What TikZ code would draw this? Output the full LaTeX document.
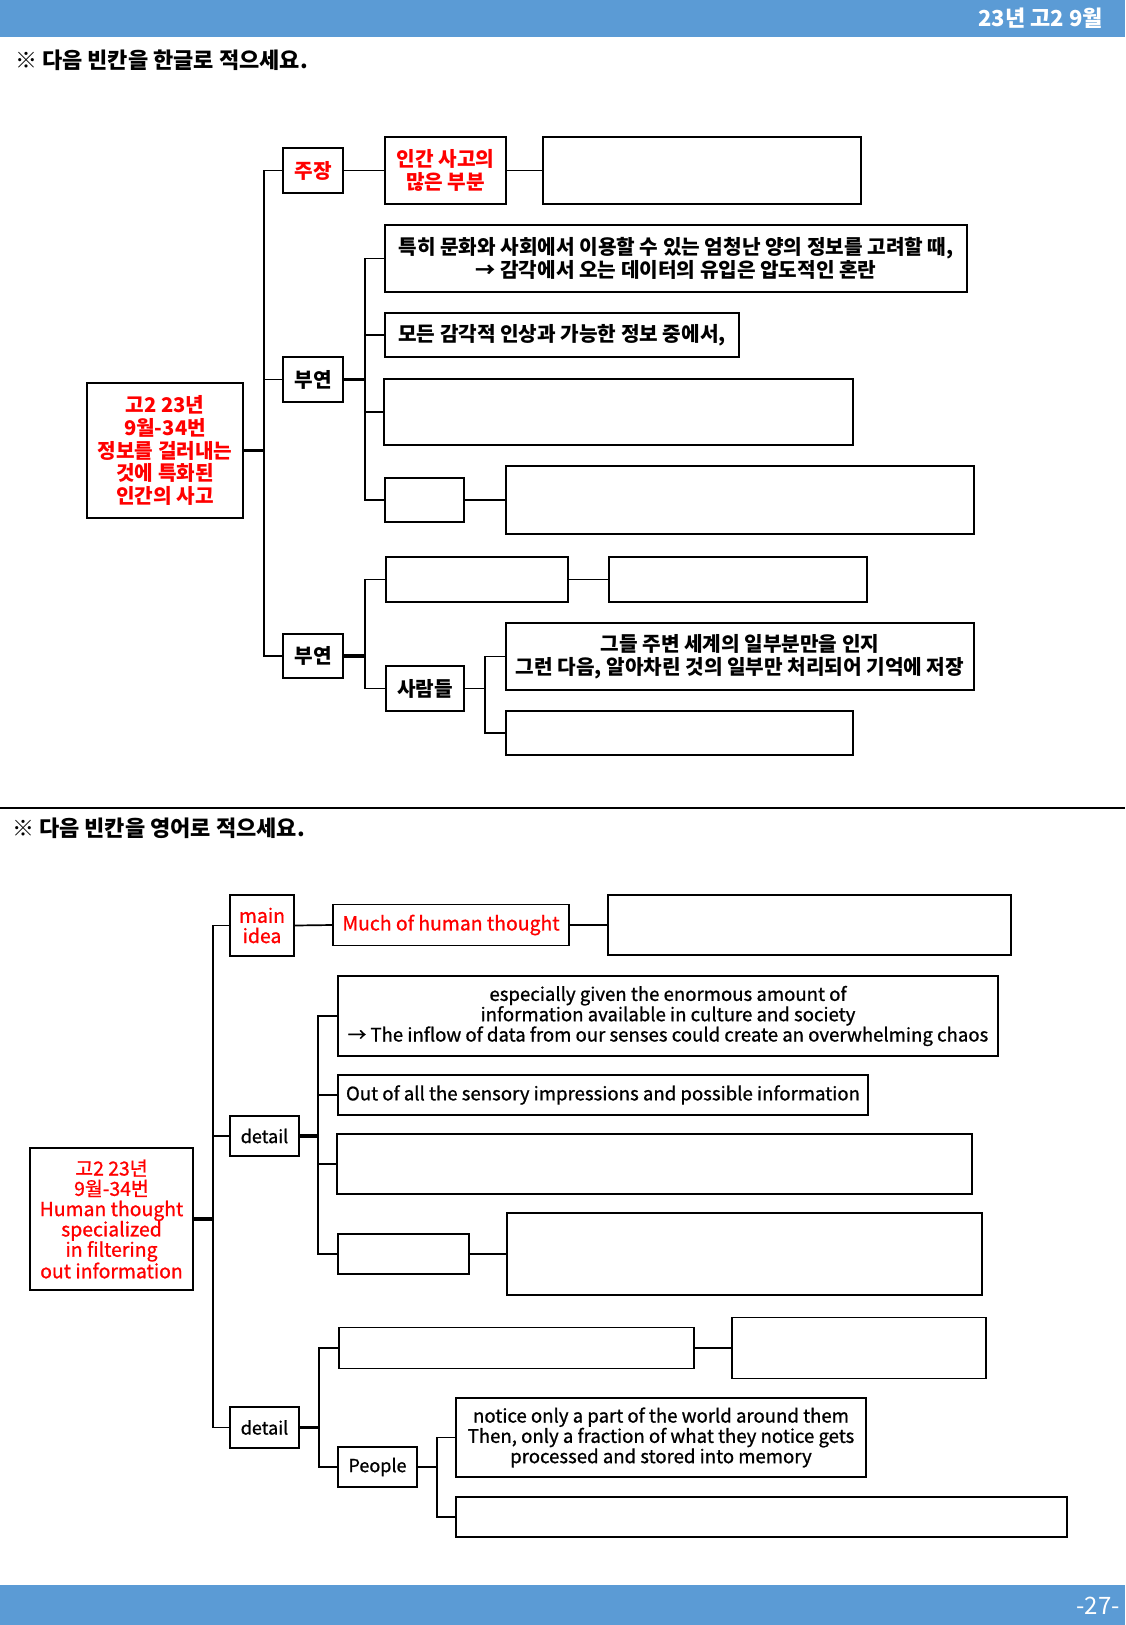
\documentclass[tikz,border=0pt]{standalone}
\usepackage{fontspec}
\setmainfont{Noto Sans CJK KR}
\newfontfamily\emed[FakeBold=0.9]{Noto Sans CJK KR}
\definecolor{hdr}{HTML}{5B9BD5}
\definecolor{kred}{HTML}{FF0000}
\begin{document}
\begin{tikzpicture}[x=1pt,y=-1pt,
  box/.style={draw=black, line width=1.9pt, inner sep=0pt, align=center, font=\fontsize{20.2}{22.6}\selectfont\bfseries},
  ebox/.style={draw=black, line width=1.9pt, inner sep=0pt, align=center, font=\fontsize{18.6}{20.3}\selectfont\emed},
  lbl/.style={font=\fontsize{18}{20.3}\selectfont\emed},
  rlbl/.style={font=\fontsize{19.4}{20.3}\selectfont\emed},
  redtxt/.style={text=kred},
  conn/.style={line width=1.7pt},
  tconn/.style={line width=3.6pt},
  ttl/.style={anchor=west, inner sep=0pt, font=\fontsize{22}{26}\selectfont\bfseries}]
\useasboundingbox (0,0) rectangle (1125,1625);
\fill[white] (0,0) rectangle (1125,1625);
% header / footer
\fill[hdr] (0,0) rectangle (1125,37);
\fill[hdr] (0,1585) rectangle (1125,1625);
\node[anchor=east, inner sep=0pt, text=white, font=\fontsize{22}{26}\selectfont\bfseries] (hd) at (1103,18) {23년 고2 9월};
\node[anchor=east, inner sep=0pt, text=white, font=\fontsize{24}{28}\selectfont] (pg) at (1120,1606) {-27-};
% titles
\node[ttl] (t1) at (15,60) {※ 다음 빈칸을 한글로 적으세요.};
\node[ttl] (t2) at (12,828) {※ 다음 빈칸을 영어로 적으세요.};
\coordinate (sepL) at (0,808);
\coordinate (sepR) at (1125,808);
\draw[line width=2.2pt] (sepL) -- (sepR);

% ===== upper diagram =====
\node[box, redtxt, minimum width=156, minimum height=135] (root1) at (165,450.5) {고2 23년\\9월-34번\\정보를 걸러내는\\것에 특화된\\인간의 사고};
\node[box, redtxt, minimum width=60, minimum height=45] (zj) at (313,170.5) {주장};
\node[box, redtxt, minimum width=121, minimum height=67] (ig) at (445.5,170.5) {인간 사고의\\많은 부분};
\node[box, minimum width=318, minimum height=67] (b1) at (702,170.5) {};
\node[box, minimum width=60, minimum height=45] (by1) at (313,379.5) {부연};
\node[box, minimum width=582, minimum height=67] (tk) at (676,258.5) {특히 문화와 사회에서 이용할 수 있는 엄청난 양의 정보를 고려할 때,\\→ 감각에서 오는 데이터의 유입은 압도적인 혼란};
\node[box, minimum width=354, minimum height=44] (md) at (562,335) {모든 감각적 인상과 가능한 정보 중에서,};
\node[box, minimum width=469, minimum height=66] (b3) at (618.5,412) {};
\node[box, minimum width=79, minimum height=44] (s1) at (424.5,500) {};
\node[box, minimum width=468, minimum height=68] (b4) at (740,500) {};
\node[box, minimum width=60, minimum height=44] (by2) at (313,656) {부연};
\node[box, minimum width=182, minimum height=45] (b5) at (477,579.5) {};
\node[box, minimum width=258, minimum height=45] (b6) at (738,579.5) {};
\node[box, minimum width=78, minimum height=45] (sr) at (425,688.5) {사람들};
\node[box, minimum width=468, minimum height=67] (gd) at (740,656.5) {그들 주변 세계의 일부분만을 인지\\그런 다음, 알아차린 것의 일부만 처리되어 기억에 저장};
\node[box, minimum width=347, minimum height=44] (b7) at (679.5,733) {};

\coordinate (T1) at (264,450.5);
\draw[tconn] (root1.east) -- (T1);
\draw[conn] (zj.west) -| (T1) |- (by2.west);
\draw[conn] (by1.west) -- (by1.west -| T1);
\draw[conn] (zj.east) -- (ig.west);
\draw[conn] (ig.east) -- (b1.west);
\coordinate (T2) at (365,379.5);
\draw[tconn] (by1.east) -- (T2);
\draw[conn] (tk.west) -| (T2) |- (s1.west);
\draw[conn] (md.west) -- (md.west -| T2);
\draw[conn] (b3.west) -- (b3.west -| T2);
\draw[conn] (s1.east) -- (b4.west);
\coordinate (T3) at (365,656);
\draw[tconn] (by2.east) -- (T3);
\draw[conn] (b5.west) -| (T3) |- (sr.west);
\draw[conn] (b5.east) -- (b6.west);
\coordinate (T4) at (485,688.5);
\draw[conn] (sr.east) -- (T4);
\draw[conn] (gd.west) -| (T4) |- (b7.west);

% ===== lower diagram =====
\node[ebox, rlbl, redtxt, minimum width=163, minimum height=142] (root2) at (111.5,1219) {고2 23년\\9월-34번\\Human thought\\specialized\\in filtering\\out information};
\node[ebox, rlbl, redtxt, minimum width=64, minimum height=61] (mi) at (262,925.5) {main\\idea};
\node[ebox, rlbl, redtxt, minimum width=236, minimum height=41] (mh) at (451,925) {Much of human thought};
\node[ebox, minimum width=403, minimum height=60] (bt) at (809.5,925) {};
\node[ebox, lbl, minimum width=69, minimum height=40] (d1) at (264.5,1136) {detail};
\node[ebox, minimum width=660, minimum height=80] (es) at (668,1016) {especially given the enormous amount of\\information available in culture and society\\→ The inflow of data from our senses could create an overwhelming chaos};
\node[ebox, minimum width=530, minimum height=40] (oo) at (603,1095) {Out of all the sensory impressions and possible information};
\node[ebox, minimum width=635, minimum height=60] (bl1) at (654.5,1164) {};
\node[ebox, minimum width=131, minimum height=40] (sm) at (403.5,1254) {};
\node[ebox, minimum width=475, minimum height=82] (bg) at (744.5,1254) {};
\node[ebox, lbl, minimum width=69, minimum height=41] (d2) at (264.5,1427.5) {detail};
\node[ebox, minimum width=355, minimum height=41] (ba) at (516.5,1348) {};
\node[ebox, minimum width=254, minimum height=61] (bb) at (859,1348) {};
\node[ebox, lbl, minimum width=79, minimum height=40] (pp) at (377.5,1467) {People};
\node[ebox, minimum width=410, minimum height=79] (nt) at (661,1437.5) {notice only a part of the world around them\\Then, only a fraction of what they notice gets\\processed and stored into memory};
\node[ebox, minimum width=611, minimum height=40] (bc) at (761.5,1517) {};

\coordinate (U1) at (213,1219);
\draw[tconn] (root2.east) -- (U1);
\draw[conn] (mi.west) -| (U1) |- (d2.west);
\draw[conn] (d1.west) -- (d1.west -| U1);
\draw[conn] (mi.east) -- (mh.west);
\draw[conn] (mh.east) -- (bt.west);
\coordinate (U2) at (318,1136);
\draw[tconn] (d1.east) -- (U2);
\draw[conn] (es.west) -| (U2) |- (sm.west);
\draw[conn] (oo.west) -- (oo.west -| U2);
\draw[conn] (bl1.west) -- (bl1.west -| U2);
\draw[conn] (sm.east) -- (bg.west);
\coordinate (U3) at (319,1427.5);
\draw[tconn] (d2.east) -- (U3);
\draw[conn] (ba.west) -| (U3) |- (pp.west);
\draw[conn] (ba.east) -- (bb.west);
\coordinate (U4) at (437,1467);
\draw[conn] (pp.east) -- (U4);
\draw[conn] (nt.west) -| (U4) |- (bc.west);
\end{tikzpicture}
\end{document}
